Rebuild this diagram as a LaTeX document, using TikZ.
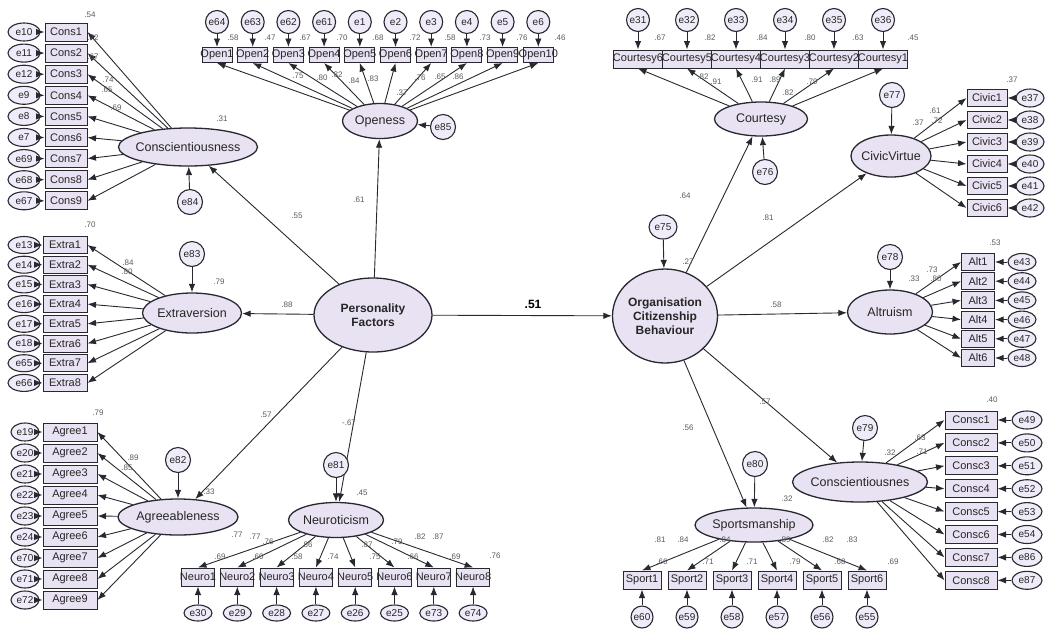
\documentclass[tikz,border=0pt]{standalone}
\usepackage{fontspec}
\setmainfont{Liberation Sans}
\usetikzlibrary{arrows.meta,shapes.geometric}
\definecolor{lav}{RGB}{233,226,243}
\definecolor{errc}{RGB}{240,235,248}
\definecolor{edgec}{RGB}{40,40,48}
\definecolor{numc}{RGB}{90,90,90}
\newcommand{\fixw}[1]{\makebox[0pt]{#1}}

\begin{document}
\begin{tikzpicture}[x=1pt,y=-1pt, >={Latex[length=8.5pt,width=6.5pt]},
    latent/.style={ellipse,draw=edgec,line width=1.3pt,fill=lav,inner sep=0pt,
      text=black!85,font=\fontsize{12.5}{14}\selectfont},
    factor/.style={latent,align=center,font=\bfseries\fontsize{12}{14}\selectfont},
    ind/.style={draw=edgec,line width=1pt,fill=lav,inner sep=0pt,minimum height=18pt,
      text=black!85,font=\fontsize{11}{12}\selectfont},
    err/.style={ellipse,draw=edgec,line width=1.1pt,fill=errc,inner sep=0pt,
      text=black!85,font=\fontsize{10}{12}\selectfont},
    lnk/.style={->,draw=edgec,line width=0.9pt},
    coef/.style={inner sep=0pt,text=numc,font=\fontsize{8}{9}\selectfont}]
  \useasboundingbox (0,0) rectangle (1048,633);

  \node[factor,minimum width=118pt,minimum height=74pt] (pf) at (373,315) {Personality\\Factors};
  \node[factor,minimum width=105pt,minimum height=94pt] (ocb) at (665,316) {Organisation\\Citizenship\\Behaviour};
  \node[err,minimum width=28pt,minimum height=24pt] (e75) at (663,227) {e75};
  \draw[lnk] (e75) -- (ocb);
  \draw[lnk] (pf) -- (ocb);
  \node[font=\bfseries\fontsize{12}{14}\selectfont,inner sep=0pt] (b51) at (533,304) {.51};

  \node[latent,minimum width=139pt,minimum height=38pt] (cons) at (188,147) {\fixw{Conscientiousness}};
  \node[latent,minimum width=99pt,minimum height=40pt] (extra) at (192,313) {\fixw{Extraversion}};
  \node[latent,minimum width=120pt,minimum height=36pt] (agree) at (178,517) {\fixw{Agreeableness}};
  \node[latent,minimum width=95pt,minimum height=35pt] (neuro) at (336,520) {\fixw{Neuroticism}};
  \node[latent,minimum width=75pt,minimum height=35pt] (open) at (380,121) {\fixw{Openess}};
  \node[latent,minimum width=93pt,minimum height=34pt] (court) at (761,119) {\fixw{Courtesy}};
  \node[latent,minimum width=80pt,minimum height=42pt] (civic) at (891,156) {\fixw{CivicVirtue}};
  \node[latent,minimum width=85pt,minimum height=44pt] (altru) at (890,312) {\fixw{Altruism}};
  \node[latent,minimum width=135pt,minimum height=40pt] (consc) at (860,482) {\fixw{Conscientiousnes}};
  \node[latent,minimum width=118pt,minimum height=34pt] (sport) at (754,525) {\fixw{Sportsmanship}};

  \foreach \t in {cons,extra,agree,neuro,open} \draw[lnk] (pf) -- (\t);
  \foreach \t in {court,civic,altru,consc,sport} \draw[lnk] (ocb) -- (\t);

  \foreach \n/\x/\y/\t in {e84/190/202/cons,e83/192/254/extra,e82/178/460/agree,
      e81/336/465/neuro,e85/443/127/open,e76/765/172/court,e77/892/95/civic,
      e78/890/257/altru,e79/865/428/consc,e80/755/464/sport}{
    \node[err,minimum size=25pt] (\n) at (\x,\y) {\n};
    \draw[lnk] (\n) -- (\t);
  }

  \foreach \e [count=\i] in {e10,e11,e12,e9,e8,e7,e69,e68,e67}{
    \node[ind,minimum width=42pt] (cs\i) at (66,{32+21.1*(\i-1)}) {\fixw{Cons\i}};
    \node[err,minimum width=32pt,minimum height=18pt] (ecs\i) at (24,{32+21.1*(\i-1)}) {\fixw{\e}};
    \draw[lnk] (ecs\i) -- (cs\i);
    \draw[lnk] (cons) -- (cs\i.east);
  }
  \foreach \e [count=\i] in {e13,e14,e15,e16,e17,e18,e65,e66}{
    \node[ind,minimum width=44pt,minimum height=17pt] (ex\i) at (65,{245+19.7*(\i-1)}) {\fixw{Extra\i}};
    \node[err,minimum width=32pt,minimum height=17pt] (eex\i) at (24,{245+19.7*(\i-1)}) {\fixw{\e}};
    \draw[lnk] (eex\i) -- (ex\i);
    \draw[lnk] (extra) -- (ex\i.east);
  }
  \foreach \e [count=\i] in {e19,e20,e21,e22,e23,e24,e70,e71,e72}{
    \node[ind,minimum width=54pt] (ag\i) at (70,{432+21*(\i-1)}) {\fixw{Agree\i}};
    \node[err,minimum width=28pt,minimum height=18pt] (eag\i) at (25,{432+21*(\i-1)}) {\fixw{\e}};
    \draw[lnk] (eag\i) -- (ag\i);
    \draw[lnk] (agree) -- (ag\i.east);
  }
  \foreach \e [count=\i] in {e30,e29,e28,e27,e26,e25,e73,e74}{
    \node[ind,minimum width=33pt] (nr\i) at ({198+39.3*(\i-1)},577) {\fixw{Neuro\i}};
    \node[err,minimum width=28pt,minimum height=16pt] (enr\i) at ({198+39.3*(\i-1)},613) {\fixw{\e}};
    \draw[lnk] (enr\i) -- (nr\i);
    \draw[lnk] (neuro) -- (nr\i.north);
  }
  \foreach \e [count=\i] in {e64,e63,e62,e61,e1,e2,e3,e4,e5,e6}{
    \node[ind,minimum width=30pt,minimum height=15pt] (op\i) at ({217+35.7*(\i-1)},55) {\fixw{Open\i}};
    \node[err,minimum size=23pt] (eop\i) at ({217+35.7*(\i-1)},22) {\fixw{\e}};
    \draw[lnk] (eop\i) -- (op\i);
    \draw[lnk] (open) -- (op\i.south);
  }
  \foreach \n/\e [count=\i] in {6/e31,5/e32,4/e33,3/e34,2/e35,1/e36}{
    \node[ind,minimum width=49pt] (ct\i) at ({638+49*(\i-1)},59) {\fixw{Courtesy\n}};
    \node[err,minimum size=23pt] (ect\i) at ({638+49*(\i-1)},20) {\fixw{\e}};
    \draw[lnk] (ect\i) -- (ct\i);
    \draw[lnk] (court) -- (ct\i.south);
  }
  \foreach \e [count=\i] in {e37,e38,e39,e40,e41,e42}{
    \node[ind,minimum width=40pt,minimum height=17pt] (cv\i) at (987,{98+22*(\i-1)}) {\fixw{Civic\i}};
    \node[err,minimum width=28pt,minimum height=18pt] (ecv\i) at (1030,{98+22*(\i-1)}) {\fixw{\e}};
    \draw[lnk] (ecv\i) -- (cv\i);
    \draw[lnk] (civic) -- (cv\i.west);
  }
  \foreach \e [count=\i] in {e43,e44,e45,e46,e47,e48}{
    \node[ind,minimum width=33pt,minimum height=17pt] (al\i) at (978,{262+19.2*(\i-1)}) {\fixw{Alt\i}};
    \node[err,minimum width=28pt,minimum height=17pt] (eal\i) at (1022,{262+19.2*(\i-1)}) {\fixw{\e}};
    \draw[lnk] (eal\i) -- (al\i);
    \draw[lnk] (altru) -- (al\i.west);
  }
  \foreach \e [count=\i] in {e49,e50,e51,e52,e53,e54,e86,e87}{
    \node[ind,minimum width=52pt] (cn\i) at (971,{420+22.9*(\i-1)}) {\fixw{Consc\i}};
    \node[err,minimum width=30pt,minimum height=18pt] (ecn\i) at (1027,{420+22.9*(\i-1)}) {\fixw{\e}};
    \draw[lnk] (ecn\i) -- (cn\i);
    \draw[lnk] (consc) -- (cn\i.west);
  }
  \foreach \e [count=\i] in {e60,e59,e58,e57,e56,e55}{
    \node[ind,minimum width=38pt] (sp\i) at ({642+45*(\i-1)},580) {\fixw{Sport\i}};
    \node[err,minimum size=22pt] (esp\i) at ({642+45*(\i-1)},617) {\fixw{\e}};
    \draw[lnk] (esp\i) -- (sp\i);
    \draw[lnk] (sport) -- (sp\i.north);
  }

  \foreach \x/\y/\t [count=\k] in {297/216/.55,359/200/.61,287/305/.88,266/415/.57,
      349/423/-.67,685/196/.64,688/262/.27,768/218/.81,776/305/.58,765/402/.57,
      688/428/.56,222/119/.31,219/282/.79,209/492/.33,362/493/.45,918/123/.37,
      914/279/.33,890/453/.32,787/499/.32}
    \node[coef] (s\k) at (\x,\y) {\t};
  \foreach \x/\y/\t [count=\k] in {90/15/.54,93/38/.72,93/57/.67,108/80/.74,107/90/.65,
      116/108/.69,90/225/.70,128/263/.84,127/272/.80,98/413/.79,133/458/.89,127/468/.85,
      233/38/.58,270/38/.47,305/38/.67,342/38/.70,378/38/.68,415/38/.72,450/38/.58,
      485/38/.73,522/38/.76,560/38/.46,298/76/.75,322/78/.80,337/75/.82,354/81/.84,
      373/79/.83,402/93/.37,420/78/.76,440/77/.65,458/77/.86,
      660/38/.67,710/38/.82,762/38/.84,810/38/.80,858/38/.63,913/38/.45,
      703/77/.82,716/82/.91,757/80/.91,775/80/.89,788/93/.82,812/82/.79,
      1012/80/.37,935/111/.61,937/121/.72,995/243/.53,932/270/.73,936/279/.80,
      992/400/.40,920/438/.63,922/452/.71,
      660/540/.81,683/540/.84,725/540/.84,785/540/.89,828/540/.82,852/540/.83,
      662/562/.66,708/562/.71,752/562/.71,795/562/.79,840/562/.68,893/562/.69,
      237/535/.77,255/537/.77,268/542/.76,307/545/.86,367/545/.87,397/542/.79,
      420/537/.82,438/537/.87,220/557/.69,258/557/.60,297/557/.58,333/557/.74,
      375/557/.75,413/557/.66,455/557/.69,495/556/.76}
    \node[coef] (m\k) at (\x,\y) {\t};
\end{tikzpicture}
\end{document}
